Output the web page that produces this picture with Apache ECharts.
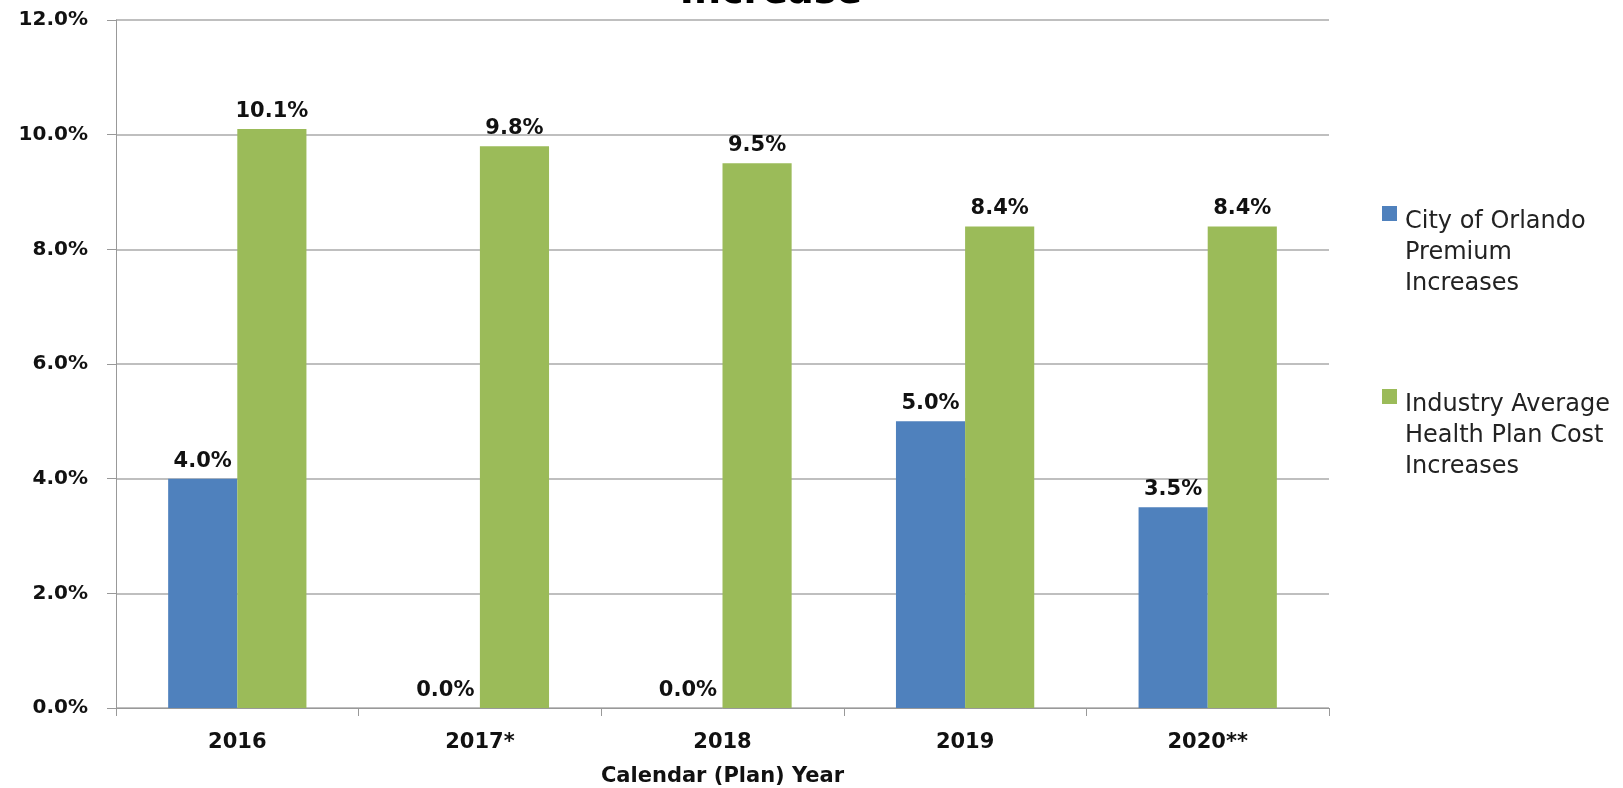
<!DOCTYPE html>
<html><head><meta charset="utf-8">
<script src="https://cdn.jsdelivr.net/npm/echarts@6/dist/echarts.min.js"></script>
<style>html,body{margin:0;padding:0;background:#fff}#c{width:1623px;height:788px}</style>
</head><body><div id="c"></div>
<script>
const categories = ['2016', '2017*', '2018', '2019', '2020**'];
const cityValues = [4.0, 0.0, 0.0, 5.0, 3.5];
const industryValues = [10.1, 9.8, 9.5, 8.4, 8.4];
const seriesNames = ['City of Orlando\nPremium\nIncreases', 'Industry Average\nHealth Plan Cost\nIncreases'];

const chart = echarts.init(document.getElementById('c'));
const lbl = {show: true, position: 'top', distance: 7, color: '#111', fontFamily: 'DejaVu Sans', fontWeight: 'bold', fontSize: 21,
  formatter: p => p.value.toFixed(1) + '%'};
const topSquare = 'path://M0,0L15,0L15,15L0,15Z M18,93L18.01,93L18.01,93.01Z';
chart.setOption({
  animation: false,
  title: {text: 'Increase', left: 766, textAlign: 'center', top: -31,
    textStyle: {fontFamily: 'DejaVu Sans', fontWeight: 'bold', fontSize: 38, color: '#000'}},
  legend: {orient: 'vertical', left: 1377, top: 201, itemWidth: 18, itemHeight: 93, itemGap: 90,
    icon: topSquare, textStyle: {fontFamily: 'DejaVu Sans', fontSize: 24, color: '#222', lineHeight: 31}},
  grid: {left: 116, right: 294, top: 20, bottom: 80, containLabel: false, outerBoundsMode: 'none'},
  xAxis: {type: 'category', data: categories, name: 'Calendar (Plan) Year', nameLocation: 'middle', nameGap: 58,
    nameTextStyle: {fontFamily: 'DejaVu Sans', fontWeight: 'bold', fontSize: 21, color: '#111'},
    axisLine: {lineStyle: {color: '#999'}}, axisTick: {show: true, length: 8, lineStyle: {color: '#999'}},
    axisLabel: {margin: 24, fontFamily: 'DejaVu Sans', fontWeight: 'bold', fontSize: 21, color: '#111'}},
  yAxis: {type: 'value', min: 0, max: 12, interval: 2,
    axisLine: {show: true, lineStyle: {color: '#999'}}, axisTick: {show: true, length: 9, lineStyle: {color: '#999'}},
    splitLine: {lineStyle: {color: '#aaa', width: 1.5}},
    axisLabel: {margin: 28, formatter: v => v.toFixed(1) + '%', fontFamily: 'DejaVu Sans', fontWeight: 'bold', fontSize: 20, color: '#111'}},
  series: [
    {name: seriesNames[0], type: 'bar', data: cityValues, itemStyle: {color: '#4f81bd'}, barGap: '0%', barCategoryGap: '43%', label: lbl},
    {name: seriesNames[1], type: 'bar', data: industryValues, itemStyle: {color: '#9bbb59'}, barGap: '0%', barCategoryGap: '43%', label: lbl}
  ]
});
</script></body></html>
